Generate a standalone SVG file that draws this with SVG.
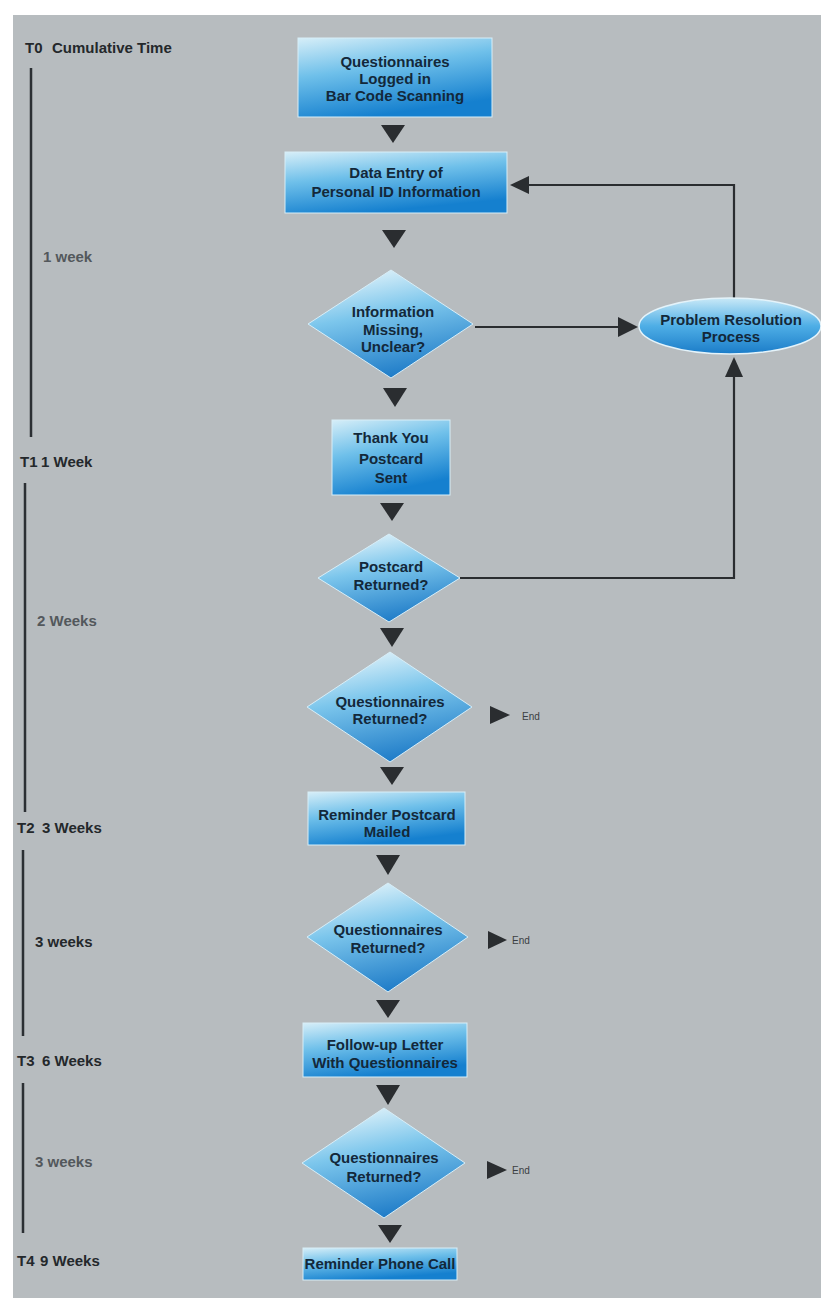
<svg xmlns="http://www.w3.org/2000/svg" width="821" height="1298" viewBox="0 0 821 1298">
<defs>
<linearGradient id="gBox" x1="0" y1="0" x2="0.35" y2="1">
<stop offset="0" stop-color="#d6eef8"/>
<stop offset="0.45" stop-color="#6fc0ea"/>
<stop offset="1" stop-color="#1580cf"/>
</linearGradient>
<linearGradient id="gDia" x1="0.3" y1="0" x2="0.6" y2="1">
<stop offset="0" stop-color="#e2f3fa"/>
<stop offset="0.4" stop-color="#7cc6ec"/>
<stop offset="1" stop-color="#1a78c6"/>
</linearGradient>
<linearGradient id="gEll" x1="0" y1="0" x2="0" y2="1">
<stop offset="0" stop-color="#c9e9f7"/>
<stop offset="0.5" stop-color="#4eaee6"/>
<stop offset="1" stop-color="#1b7cc8"/>
</linearGradient>
</defs>
<style>
.box{fill:url(#gBox);stroke:#d8eef8;stroke-width:1}
.dia{fill:url(#gDia);stroke:#d8eef8;stroke-width:1}
.ell{fill:url(#gEll);stroke:#e4f3fa;stroke-width:1.5}
.nt{font-family:"Liberation Sans",Arial,sans-serif;font-weight:bold;font-size:15px;fill:#13283a;text-anchor:middle}
.tl{font-family:"Liberation Sans",Arial,sans-serif;font-weight:bold;font-size:15px;fill:#24282b}
.tg{font-family:"Liberation Sans",Arial,sans-serif;font-weight:bold;font-size:15px;fill:#53585c}
.end{font-family:"Liberation Sans",Arial,sans-serif;font-size:10px;fill:#3a3e42}
.tri{fill:#2a2d30}
.ln{fill:none;stroke:#2a2d30;stroke-width:2.2}
.tline{stroke:#2b2f33;stroke-width:2.5}
</style>
<rect x="0" y="0" width="821" height="1298" fill="#ffffff"/>
<rect x="13" y="15" width="808" height="1283" fill="#b7bcbf"/>

<g id="timeline">
<text class="tl" x="25" y="53">T0</text>
<text class="tl" x="52" y="53">Cumulative Time</text>
<line class="tline" x1="31" y1="68" x2="31" y2="437"/>
<text class="tg" x="43" y="262">1 week</text>
<text class="tl" x="20" y="467">T1</text>
<text class="tl" x="41" y="467">1 Week</text>
<line class="tline" x1="25" y1="483" x2="25" y2="812"/>
<text class="tg" x="37" y="626">2 Weeks</text>
<text class="tl" x="17" y="833">T2</text>
<text class="tl" x="42" y="833">3 Weeks</text>
<line class="tline" x1="23" y1="850" x2="23" y2="1036"/>
<text class="tl" x="35" y="947">3 weeks</text>
<text class="tl" x="17" y="1066">T3</text>
<text class="tl" x="42" y="1066">6 Weeks</text>
<line class="tline" x1="23" y1="1083" x2="23" y2="1233"/>
<text class="tg" x="35" y="1167">3 weeks</text>
<text class="tl" x="17" y="1266">T4</text>
<text class="tl" x="40" y="1266">9 Weeks</text>
</g>

<g id="connectors">
<path class="tri" d="M381,125 L405,125 L393,143 z"/>
<path class="tri" d="M382,230 L406,230 L394,248 z"/>
<path class="tri" d="M383,388 L407,388 L395,407 z"/>
<path class="tri" d="M380,503 L404,503 L392,521 z"/>
<path class="tri" d="M380,628 L404,628 L392,647 z"/>
<path class="tri" d="M380,767 L404,767 L392,785 z"/>
<path class="tri" d="M376,855 L400,855 L388,875 z"/>
<path class="tri" d="M376,1000 L400,1000 L388,1018 z"/>
<path class="tri" d="M376,1085 L400,1085 L388,1105 z"/>
<path class="tri" d="M378,1225 L402,1225 L390,1243 z"/>
<path class="tri" d="M490,706 L510,715 L490,724 z"/>
<path class="tri" d="M488,931 L507,940 L488,949 z"/>
<path class="tri" d="M487,1161 L507,1170 L487,1179 z"/>
<path class="ln" d="M475,327 L620,327"/>
<path class="tri" d="M618,317 L638,327 L618,337 z"/>
<path class="ln" d="M734,298 L734,185 L528,185"/>
<path class="tri" d="M529,176 L510,185 L529,194 z"/>
<path class="ln" d="M460,578 L734,578 L734,375"/>
<path class="tri" d="M725,377 L734,357 L743,377 z"/>
</g>

<g id="n1">
<rect class="box" x="298" y="38" width="194" height="79"/>
<text class="nt" x="395" y="67">Questionnaires</text>
<text class="nt" x="395" y="84">Logged in</text>
<text class="nt" x="395" y="101">Bar Code Scanning</text>
</g>
<g id="n2">
<rect class="box" x="285" y="152" width="222" height="61"/>
<text class="nt" x="396" y="178">Data Entry of</text>
<text class="nt" x="396" y="197">Personal ID Information</text>
</g>
<g id="n3">
<path class="dia" d="M391,270 L473,324 L391,378 L308,324 z"/>
<text class="nt" x="393" y="317">Information</text>
<text class="nt" x="393" y="335">Missing,</text>
<text class="nt" x="393" y="352">Unclear?</text>
</g>
<g id="n4">
<ellipse class="ell" cx="730" cy="326" rx="91" ry="28"/>
<text class="nt" x="731" y="325">Problem Resolution</text>
<text class="nt" x="731" y="342">Process</text>
</g>
<g id="n5">
<rect class="box" x="332" y="420" width="118" height="75"/>
<text class="nt" x="391" y="443">Thank You</text>
<text class="nt" x="391" y="464">Postcard</text>
<text class="nt" x="391" y="483">Sent</text>
</g>
<g id="n6">
<path class="dia" d="M389,534 L460,578 L389,622 L318,578 z"/>
<text class="nt" x="391" y="572">Postcard</text>
<text class="nt" x="391" y="590">Returned?</text>
</g>
<g id="n7">
<path class="dia" d="M390,652 L472,707 L390,762 L307,707 z"/>
<text class="nt" x="390" y="707">Questionnaires</text>
<text class="nt" x="390" y="724">Returned?</text>
<text class="end" x="522" y="720">End</text>
</g>
<g id="n8">
<rect class="box" x="308" y="792" width="157" height="53"/>
<text class="nt" x="387" y="820">Reminder Postcard</text>
<text class="nt" x="387" y="837">Mailed</text>
</g>
<g id="n9">
<path class="dia" d="M388,883 L468,937 L388,992 L307,937 z"/>
<text class="nt" x="388" y="935">Questionnaires</text>
<text class="nt" x="388" y="953">Returned?</text>
<text class="end" x="512" y="944">End</text>
</g>
<g id="n10">
<rect class="box" x="303" y="1023" width="164" height="54"/>
<text class="nt" x="385" y="1050">Follow-up Letter</text>
<text class="nt" x="385" y="1068">With Questionnaires</text>
</g>
<g id="n11">
<path class="dia" d="M384,1108 L465,1163 L384,1218 L302,1163 z"/>
<text class="nt" x="384" y="1163">Questionnaires</text>
<text class="nt" x="384" y="1182">Returned?</text>
<text class="end" x="512" y="1174">End</text>
</g>
<g id="n12">
<rect class="box" x="303" y="1248" width="154" height="32"/>
<text class="nt" x="380" y="1269">Reminder Phone Call</text>
</g>
</svg>
